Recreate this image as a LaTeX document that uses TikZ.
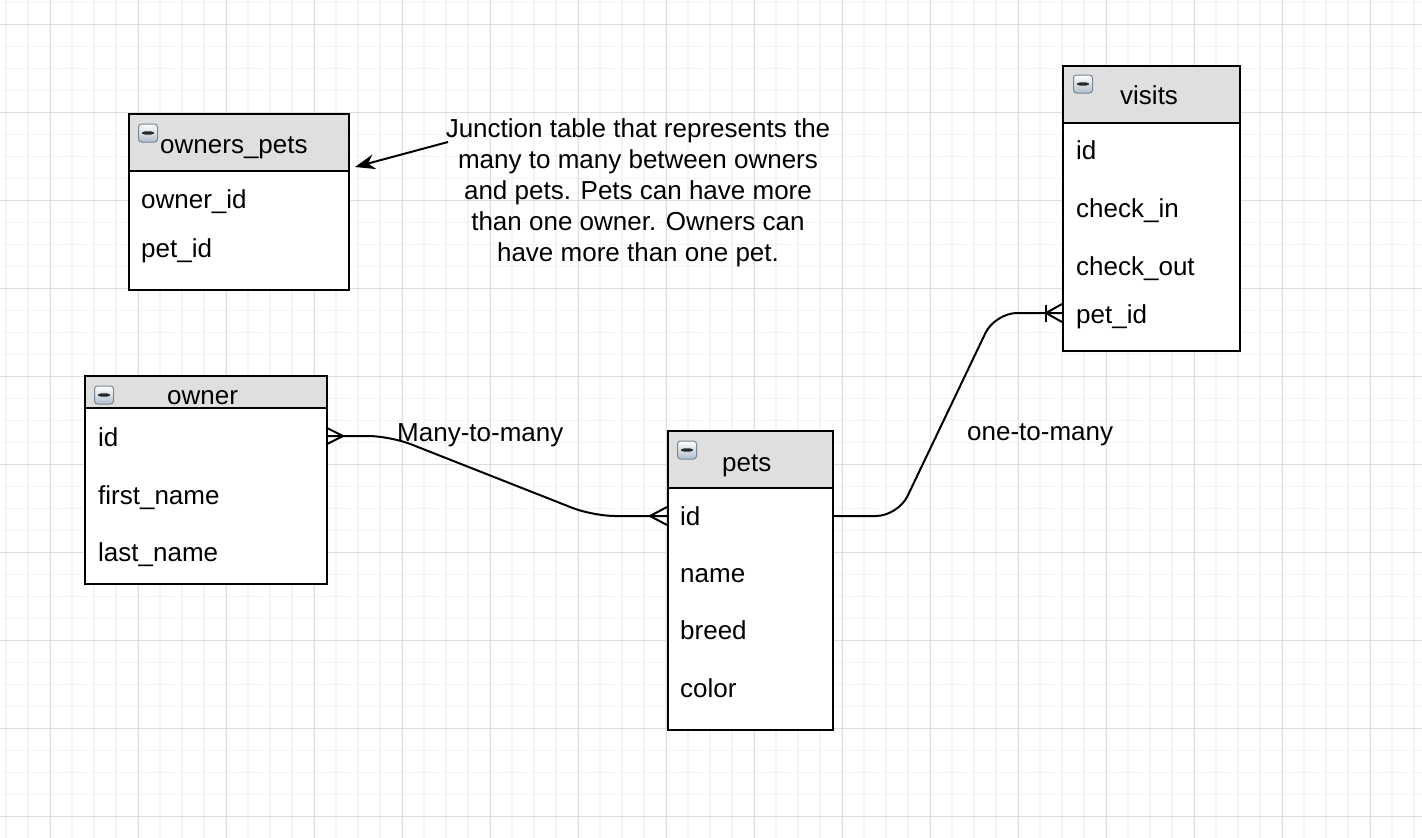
\documentclass[tikz,border=0pt]{standalone}
\usepackage{fontspec}
\setmainfont{Liberation Sans}
\usetikzlibrary{arrows.meta}
\definecolor{hdrgray}{RGB}{223,223,223}
\definecolor{gridminor}{RGB}{244,244,244}
\definecolor{gridmajor}{RGB}{222,222,222}
\definecolor{iconedge}{RGB}{120,135,150}
\definecolor{iconblue}{RGB}{175,190,205}
\definecolor{iconbar}{RGB}{40,40,40}
\newcommand\erfont{\fontsize{26}{31}\selectfont}
\tikzset{
  tbl/.style={draw=black, line width=2pt, fill=white, inner sep=0pt, anchor=north west},
  hdr/.style={draw=black, line width=2pt, fill=hdrgray, inner sep=0pt, anchor=north west},
  fld/.style={anchor=base west, inner sep=0pt, font=\erfont},
  icon/.style={draw=iconedge, line width=1pt, rounded corners=3pt, top color=white, bottom color=iconblue,
    minimum width=19pt, minimum height=18pt, inner sep=0pt,
    path picture={\fill[iconbar] ([xshift=3.6pt,yshift=-1.7pt]path picture bounding box.west) rectangle ([xshift=-3.6pt,yshift=1.7pt]path picture bounding box.east);}},
  rel/.style={line width=2pt, rounded corners=22pt},
  foot/.style={line width=2pt},
  note/.style={align=center, inner sep=0pt, font=\erfont}
}
\begin{document}
\begin{tikzpicture}[x=1pt,y=-1pt]
\useasboundingbox[fill=white] (0,0) rectangle (1422,838);
% grid
\foreach \i in {0,...,64} {\draw[gridminor, line width=1.5pt] ({6+22*\i},0) -- ({6+22*\i},838);}
\foreach \j in {0,...,38} {\draw[gridminor, line width=1.5pt] (0,{2.3+22*\j}) -- (1422,{2.3+22*\j});}
\foreach \i in {0,...,16} {\draw[gridmajor, line width=1pt] ({50+88*\i},0) -- ({50+88*\i},838);}
\foreach \j in {0,...,9} {\draw[gridmajor, line width=1pt] (0,{24.3+88*\j}) -- (1422,{24.3+88*\j});}

% owners_pets
\node[tbl, minimum width=220pt, minimum height=176pt] (op) at (128,113) {};
\node[hdr, minimum width=220pt, minimum height=57pt] (oph) at (128,113) {};
\node[icon] (opi) at (148,133) {};
\node[fld] (opt) at (160,153) {owners\_pets};
\node[fld] (op1) at (141,208) {owner\_id};
\node[fld] (op2) at (141,257) {pet\_id};

% owner
\node[tbl, minimum width=242pt, minimum height=208pt] (ow) at (84,375) {};
\node[hdr, minimum width=242pt, minimum height=32pt] (owh) at (84,375) {};
\node[icon] (owi) at (104,395) {};
\node[fld] (owt) at (167,404) {owner};
\node[fld] (ow1) at (98,446) {id};
\node[fld] (ow2) at (98,504) {first\_name};
\node[fld] (ow3) at (98,561) {last\_name};

% pets
\node[tbl, minimum width=165pt, minimum height=299pt] (pe) at (667,430) {};
\node[hdr, minimum width=165pt, minimum height=57pt] (peh) at (667,430) {};
\node[icon] (pei) at (687,450) {};
\node[fld] (pet) at (722,471) {pets};
\node[fld] (pe1) at (680,525) {id};
\node[fld] (pe2) at (680,582) {name};
\node[fld] (pe3) at (680,639) {breed};
\node[fld] (pe4) at (680,697) {color};

% visits
\node[tbl, minimum width=177pt, minimum height=285pt] (vi) at (1062,65) {};
\node[hdr, minimum width=177pt, minimum height=57pt] (vih) at (1062,65) {};
\node[icon] (vii) at (1083,84) {};
\node[fld] (vit) at (1120,104) {visits};
\node[fld] (vi1) at (1076,159) {id};
\node[fld] (vi2) at (1076,217) {check\_in};
\node[fld] (vi3) at (1076,275) {check\_out};
\node[fld] (vi4) at (1076,323) {pet\_id};

% connection points
\coordinate (owid) at (326,436);
\coordinate (peidl) at (667,516);
\coordinate (peidr) at (832,516);
\coordinate (vipid) at (1062,313);

% many-to-many
\draw[rel] (owid) -- (390,436) -- (593,516) -- (peidl);
\draw[foot] ([yshift=8.5pt]owid) -- ([xshift=17pt]owid) -- ([yshift=-8.5pt]owid);
\draw[foot] ([yshift=9pt]peidl) -- ([xshift=-17pt]peidl) -- ([yshift=-9pt]peidl);
\node[fld] (lbl1) at (397,441) {Many-to-many};

% one-to-many
\draw[rel] (peidr) -- (898,516) -- (995,313) -- (vipid);
\draw[foot] ([yshift=9pt]vipid) -- ([xshift=-16pt]vipid) -- ([yshift=-9pt]vipid);
\draw[foot] ([xshift=-16pt,yshift=8.5pt]vipid) -- ([xshift=-16pt,yshift=-8.5pt]vipid);
\node[fld] (lbl2) at (967,440) {one-to-many};

% note
\node[note, anchor=north] (nt) at (638,118) {Junction table that represents the\\many to many between owners\\and pets. Pets can have more\\than one owner. Owners can\\have more than one pet.};
\coordinate (ntarrow) at (448,142);
\coordinate (opedge) at (355,167);
\draw[line width=2pt, -{Stealth[length=20pt,width=15pt]}] (ntarrow) -- (opedge);
\end{tikzpicture}
\end{document}
